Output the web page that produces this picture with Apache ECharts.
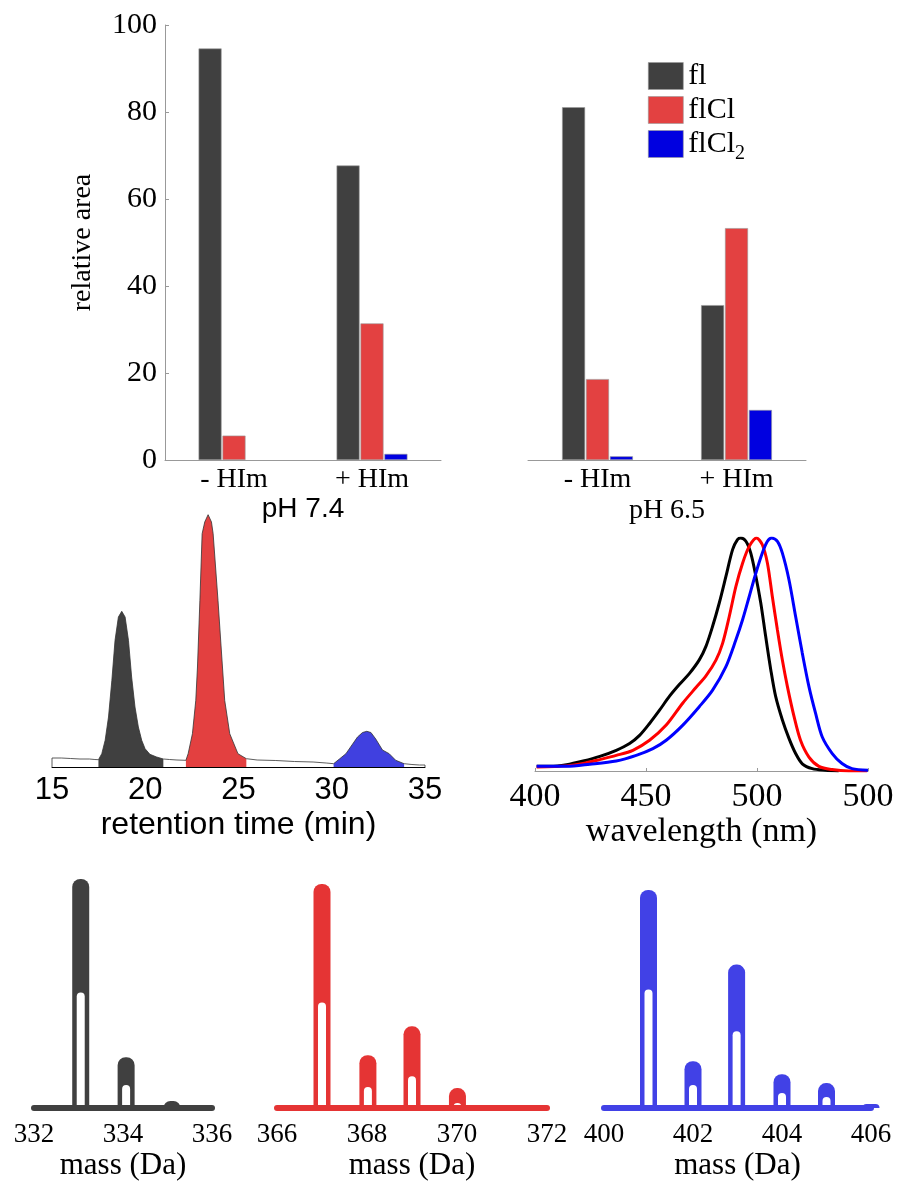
<!DOCTYPE html>
<html>
<head>
<meta charset="utf-8">
<script src="https://cdn.jsdelivr.net/npm/echarts@6/dist/echarts.min.js"></script>
<style>
html, body { margin: 0; padding: 0; background: #fff; }
#chart { width: 900px; height: 1182px; }
</style>
</head>
<body>
<div id="chart"></div>
<script>
// bar chart (relative area)
const groups = ['- HIm', '+ HIm'];
const fl74 = [94.6, 67.7];
const flCl74 = [5.6, 31.4];
const flCl274 = [0, 1.4];
const fl65 = [81.1, 35.6];
const flCl65 = [18.6, 53.3];
const flCl265 = [0.85, 11.5];

// chromatogram: [time, signal]
const chromBaseA = [[15, 0], [15, 9], [15.5, 9], [16, 8.5], [16.5, 8], [17, 8], [17.3, 7.5]];
const chromPeakFl = [[17.49, 7.3], [17.67, 13.3], [17.85, 26.7], [18.03, 50], [18.21, 86.7], [18.38, 126.7], [18.56, 150], [18.74, 155.7], [18.92, 150], [19.10, 126.7], [19.27, 90], [19.45, 60], [19.63, 40], [19.81, 26.7], [19.99, 18.3], [20.25, 12.7], [20.61, 10], [20.97, 8]];
const chromBaseB = [[21.3, 7.5], [21.7, 7]];
const chromPeakFlCl = [[22.18, 6.7], [22.30, 13.3], [22.53, 33.3], [22.71, 66.7], [22.80, 100], [22.93, 166.7], [23.05, 233.3], [23.19, 245], [23.37, 252.3], [23.55, 245], [23.64, 233.3], [23.90, 166.7], [24.14, 100], [24.26, 66.7], [24.53, 33.3], [24.97, 13.3], [25.42, 8.3]];
const chromBaseC = [[26, 7], [27, 6.5], [28, 5.5], [29, 5], [29.7, 4]];
const chromPeakFlCl2 = [[30.10, 3.3], [30.41, 8], [30.76, 13.3], [31.12, 23], [31.38, 30], [31.65, 34.5], [31.88, 35.7], [32.10, 34.5], [32.36, 28], [32.72, 17], [33.08, 13.3], [33.43, 6.7], [33.88, 3.3]];
const chromBaseD = [[34.3, 2.5], [34.7, 2], [35, 2], [35, 0]];

// emission spectra: [wavelength, normalised intensity]
const specFl = [[400.75, 0.02], [406.7, 0.02], [414.2, 0.027], [421.7, 0.043], [429.2, 0.063], [436.6, 0.089], [442.6, 0.118], [447.1, 0.153], [451.6, 0.204], [456.1, 0.261], [460.6, 0.321], [465.1, 0.372], [469.5, 0.418], [474.0, 0.477], [477.0, 0.535], [480.0, 0.621], [483.0, 0.721], [486.0, 0.835], [489.0, 0.95], [491.2, 0.993], [492.7, 1.0], [495.0, 0.986], [497.2, 0.935], [499.5, 0.835], [501.7, 0.721], [503.9, 0.578], [506.2, 0.435], [508.4, 0.32], [511.4, 0.22], [514.4, 0.14], [517.4, 0.075], [520.4, 0.031], [524.9, 0.01], [530.9, 0.003], [536.8, 0]];
const specFlCl = [[400.75, 0.017], [414.2, 0.022], [421.7, 0.032], [429.2, 0.049], [436.6, 0.067], [444.1, 0.089], [451.6, 0.132], [459.1, 0.197], [466.6, 0.292], [472.5, 0.358], [477.0, 0.408], [481.5, 0.476], [484.5, 0.548], [487.5, 0.663], [490.5, 0.792], [493.5, 0.892], [496.5, 0.964], [499.8, 1.0], [502.4, 0.971], [504.7, 0.892], [506.9, 0.749], [509.2, 0.605], [511.4, 0.477], [513.7, 0.362], [516.7, 0.233], [519.6, 0.132], [523.4, 0.06], [527.9, 0.02], [533.8, 0.006], [541.3, 0], [549.6, 0]];
const specFlCl2 = [[400.75, 0.02], [414.2, 0.02], [424.7, 0.029], [436.6, 0.043], [445.6, 0.067], [453.1, 0.096], [459.1, 0.132], [466.6, 0.197], [474.0, 0.276], [480.0, 0.347], [486.0, 0.448], [490.5, 0.563], [493.5, 0.649], [496.5, 0.749], [499.5, 0.85], [502.4, 0.936], [504.7, 0.986], [506.6, 1.0], [509.2, 0.986], [511.4, 0.936], [514.4, 0.821], [517.4, 0.663], [520.4, 0.506], [523.4, 0.362], [526.4, 0.247], [529.4, 0.146], [533.9, 0.075], [538.3, 0.032], [542.8, 0.01], [550, 0.003]];
const specTickLabels = ['400', '450', '500', '500'];

// mass spectra: peak position, peak height, inner gap height
const massFl = [333.05, 334.07, 335.1];
const massFlH = [230, 51, 7];
const massFlGap = [116, 23, 0];
const massFlCl = [367, 368.02, 369, 370.01];
const massFlClH = [225, 53, 82, 20];
const massFlClGap = [106, 21, 32, 5];
const massFlCl2 = [401, 402, 402.98, 404, 405, 406];
const massFlCl2H = [219, 47, 144, 34, 25, 4];
const massFlCl2Gap = [119, 23, 77, 15, 11, 0];

const serif = 'Liberation Serif';
const sans = 'Liberation Sans';
const cDark = '#404040', cRed = '#e34141', cBlue = '#0000e0';

const pairs = (xs, ys) => xs.map((x, i) => [x, ys[i]]);
// a zero bar is simply not drawn (no outline)
const barData = (vals) => vals.map(v => v === 0 ? { value: 0, itemStyle: { borderWidth: 0 } } : v);

const chart = echarts.init(document.getElementById('chart'));

const barStyle = (c) => ({ color: c, borderColor: '#999', borderWidth: 0.6 });

const massAxis = (grid, min, max, show) => ({
  type: 'value', gridIndex: grid, min: min, max: max, interval: 2, show: show, z: 5,
  axisLine: { show: show, lineStyle: { width: 6 } },
  axisTick: { show: false }, splitLine: { show: false },
  axisLabel: { show: show, fontFamily: serif, fontSize: 27, color: '#000', margin: 13 },
  name: show ? 'mass (Da)' : '', nameLocation: 'middle', nameGap: 42,
  nameTextStyle: { fontFamily: serif, fontSize: 31, color: '#000' }
});

const option = {
  animation: false,
  legend: {
    data: ['fl', 'flCl', 'flCl2'],
    orient: 'vertical', left: 643, top: 56,
    icon: 'rect',
    itemWidth: 35, itemHeight: 27, itemGap: 4,
    selectedMode: false,
    itemStyle: { borderColor: '#999', borderWidth: 0.6 },
    formatter: (name) => name === 'flCl2' ? '{m|flCl}{s|2}' : '{m|' + name + '}',
    textStyle: {
      color: '#000',
      rich: {
        m: { fontFamily: serif, fontSize: 30, lineHeight: 28, color: '#000' },
        s: { fontFamily: serif, fontSize: 20, lineHeight: 14, color: '#000', verticalAlign: 'top', padding: [14, 0, 0, 0] }
      }
    }
  },
  grid: [
    { left: 165, top: 25, width: 276, height: 435 },
    { left: 528, top: 25, width: 278, height: 435 },
    { left: 52, top: 514, width: 373, height: 253 },
    { left: 535, top: 538, width: 333, height: 233 },
    { left: 34, top: 869, width: 178, height: 240 },
    { left: 277, top: 869, width: 270, height: 240 },
    { left: 604, top: 869, width: 267, height: 240 }
  ],
  xAxis: [
    {
      type: 'category', gridIndex: 0, data: groups,
      axisLine: { lineStyle: { color: '#999' } }, axisTick: { show: false },
      axisLabel: { fontFamily: serif, fontSize: 28, color: '#000', margin: 6 },
      name: 'pH 7.4', nameLocation: 'middle', nameGap: 35,
      nameTextStyle: { fontFamily: sans, fontSize: 28, color: '#000' }
    },
    {
      type: 'category', gridIndex: 1, data: groups,
      axisLine: { lineStyle: { color: '#999' } }, axisTick: { show: false },
      axisLabel: { fontFamily: serif, fontSize: 28, color: '#000', margin: 6 },
      name: 'pH 6.5', nameLocation: 'middle', nameGap: 37,
      nameTextStyle: { fontFamily: serif, fontSize: 28, color: '#000' }
    },
    {
      type: 'value', gridIndex: 2, min: 15, max: 35, interval: 5,
      axisLine: { lineStyle: { color: '#000', width: 1 } }, axisTick: { show: false }, splitLine: { show: false },
      axisLabel: { fontFamily: sans, fontSize: 31, color: '#000', margin: 8 },
      name: 'retention time (min)', nameLocation: 'middle', nameGap: 42,
      nameTextStyle: { fontFamily: sans, fontSize: 32, color: '#000' }
    },
    {
      type: 'value', gridIndex: 3, min: 400, max: 550, interval: 50,
      axisLine: { lineStyle: { color: '#999', width: 1 } },
      axisTick: { show: true, inside: true, length: 3, lineStyle: { color: '#999' } },
      splitLine: { show: false },
      axisLabel: {
        fontFamily: serif, fontSize: 34, color: '#000', margin: 9,
        formatter: (v) => specTickLabels[Math.round((v - 400) / 50)]
      },
      name: 'wavelength (nm)', nameLocation: 'middle', nameGap: 44,
      nameTextStyle: { fontFamily: serif, fontSize: 34, color: '#000' }
    },
    massAxis(4, 332, 336, true),
    massAxis(5, 366, 372, true),
    massAxis(6, 400, 406, true),
    massAxis(4, 332, 336, false),
    massAxis(5, 366, 372, false),
    massAxis(6, 400, 406, false)
  ],
  yAxis: [
    {
      type: 'value', gridIndex: 0, min: 0, max: 100, interval: 20,
      axisLine: { show: true, lineStyle: { color: '#999' } },
      axisTick: { show: true, inside: true, length: 4, lineStyle: { color: '#999' } },
      splitLine: { show: false },
      axisLabel: { fontFamily: serif, fontSize: 30, color: '#000', margin: 8 },
      name: 'relative area', nameLocation: 'middle', nameGap: 68,
      nameTextStyle: { fontFamily: serif, fontSize: 28, color: '#000' }
    },
    { type: 'value', gridIndex: 1, min: 0, max: 100, show: false },
    { type: 'value', gridIndex: 2, min: 0, max: 253, show: false },
    { type: 'value', gridIndex: 3, min: 0, max: 1, show: false },
    { type: 'value', gridIndex: 4, min: 0, max: 240, show: false },
    { type: 'value', gridIndex: 5, min: 0, max: 240, show: false },
    { type: 'value', gridIndex: 6, min: 0, max: 240, show: false }
  ],
  series: [
    // relative area bars
    { name: 'fl', type: 'bar', xAxisIndex: 0, yAxisIndex: 0, data: barData(fl74), barWidth: 23, barGap: '4%', itemStyle: barStyle(cDark) },
    { name: 'flCl', type: 'bar', xAxisIndex: 0, yAxisIndex: 0, data: barData(flCl74), barWidth: 23, barGap: '4%', itemStyle: barStyle(cRed) },
    { name: 'flCl2', type: 'bar', xAxisIndex: 0, yAxisIndex: 0, data: barData(flCl274), barWidth: 23, barGap: '4%', itemStyle: barStyle(cBlue) },
    { name: 'fl', type: 'bar', xAxisIndex: 1, yAxisIndex: 1, data: barData(fl65), barWidth: 23, barGap: '4%', itemStyle: barStyle(cDark) },
    { name: 'flCl', type: 'bar', xAxisIndex: 1, yAxisIndex: 1, data: barData(flCl65), barWidth: 23, barGap: '4%', itemStyle: barStyle(cRed) },
    { name: 'flCl2', type: 'bar', xAxisIndex: 1, yAxisIndex: 1, data: barData(flCl265), barWidth: 23, barGap: '4%', itemStyle: barStyle(cBlue) },

    // chromatogram fills and trace
    { name: 'peak fl', type: 'line', xAxisIndex: 2, yAxisIndex: 2, data: chromPeakFl, showSymbol: false, lineStyle: { width: 0 }, areaStyle: { color: cDark, opacity: 1 } },
    { name: 'peak flCl', type: 'line', xAxisIndex: 2, yAxisIndex: 2, data: chromPeakFlCl, showSymbol: false, lineStyle: { width: 0 }, areaStyle: { color: '#e34040', opacity: 1 } },
    { name: 'peak flCl2', type: 'line', xAxisIndex: 2, yAxisIndex: 2, data: chromPeakFlCl2, showSymbol: false, lineStyle: { width: 0 }, areaStyle: { color: '#4040e0', opacity: 1 } },
    {
      name: 'trace', type: 'line', xAxisIndex: 2, yAxisIndex: 2, showSymbol: false,
      data: [].concat(chromBaseA, chromPeakFl, chromBaseB, chromPeakFlCl, chromBaseC, chromPeakFlCl2, chromBaseD),
      lineStyle: { color: '#333', width: 0.8 }, z: 3
    },

    // emission spectra
    { name: 'em fl', type: 'line', xAxisIndex: 3, yAxisIndex: 3, data: specFl, showSymbol: false, smooth: 0.3, lineStyle: { color: '#000', width: 3 } },
    { name: 'em flCl', type: 'line', xAxisIndex: 3, yAxisIndex: 3, data: specFlCl, showSymbol: false, smooth: 0.3, lineStyle: { color: '#ff0000', width: 3 } },
    { name: 'em flCl2', type: 'line', xAxisIndex: 3, yAxisIndex: 3, data: specFlCl2, showSymbol: false, smooth: 0.3, lineStyle: { color: '#0000ff', width: 3 } },

    // mass spectra
    { name: 'ms fl', type: 'bar', xAxisIndex: 4, yAxisIndex: 4, data: pairs(massFl, massFlH), barWidth: 17, itemStyle: { color: cDark, borderRadius: [8, 8, 0, 0] }, z: 2 },
    { name: 'ms fl gap', type: 'bar', xAxisIndex: 7, yAxisIndex: 4, data: pairs(massFl, massFlGap), barWidth: 8, itemStyle: { color: '#fff', borderRadius: [4, 4, 0, 0] }, z: 3 },
    { name: 'ms flCl', type: 'bar', xAxisIndex: 5, yAxisIndex: 5, data: pairs(massFlCl, massFlClH), barWidth: 17, itemStyle: { color: '#e53434', borderRadius: [8, 8, 0, 0] }, z: 2 },
    { name: 'ms flCl gap', type: 'bar', xAxisIndex: 8, yAxisIndex: 5, data: pairs(massFlCl, massFlClGap), barWidth: 8, itemStyle: { color: '#fff', borderRadius: [4, 4, 0, 0] }, z: 3 },
    { name: 'ms flCl2', type: 'bar', xAxisIndex: 6, yAxisIndex: 6, data: pairs(massFlCl2, massFlCl2H), barWidth: 17, itemStyle: { color: '#4141e6', borderRadius: [8, 8, 0, 0] }, z: 2 },
    { name: 'ms flCl2 gap', type: 'bar', xAxisIndex: 9, yAxisIndex: 6, data: pairs(massFlCl2, massFlCl2Gap), barWidth: 8, itemStyle: { color: '#fff', borderRadius: [4, 4, 0, 0] }, z: 3 }
  ]
};

// colour the mass-spectrum baselines like their peaks
option.xAxis[4].axisLine.lineStyle.color = cDark;
option.xAxis[5].axisLine.lineStyle.color = '#e53434';
option.xAxis[6].axisLine.lineStyle.color = '#4141e6';

chart.setOption(option);
</script>
</body>
</html>
